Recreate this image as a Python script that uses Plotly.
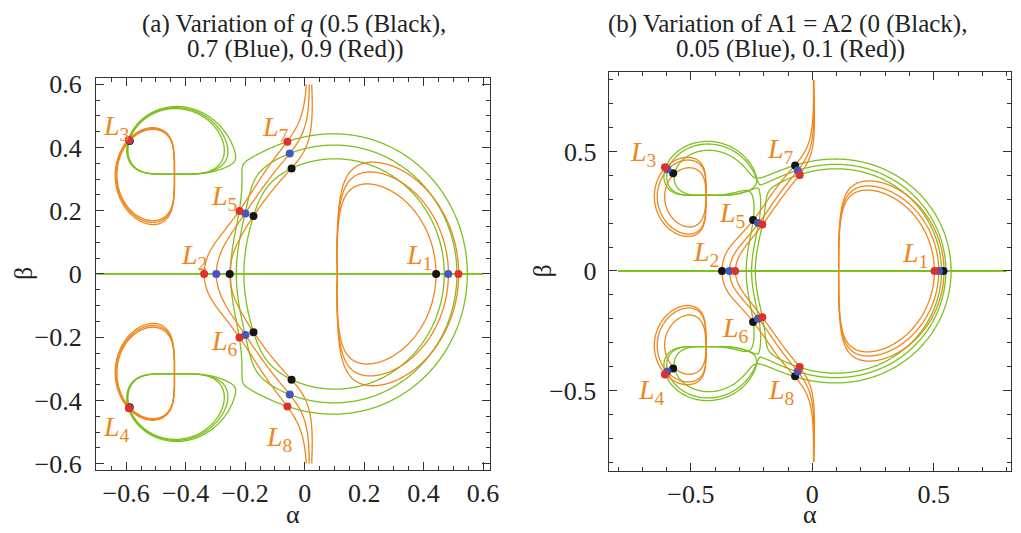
import numpy as np
import plotly.graph_objects as go

# ---------------- data ----------------
q_values = [0.5, 0.7, 0.9]        # panel (a): Black, Blue, Red
A_values = [0.0, 0.05, 0.1]       # panel (b): Black, Blue, Red
case_names = ["Black", "Blue", "Red"]
dot_colors = ["#151515", "#4656c0", "#e0302c"]
ORANGE = "#f0861a"
GREEN = "#7cc11c"

# equilibrium points L1..L8 (alpha, beta)
La_black = [(0.442, 0.0), (-0.252, 0.0), (-0.588, 0.421), (-0.588, -0.422),
            (-0.172, 0.183), (-0.172, -0.184), (-0.044, 0.334), (-0.044, -0.335)]
La_blue = [(0.483, 0.0), (-0.297, 0.0), (-0.589, 0.422), (-0.589, -0.423),
           (-0.199, 0.191), (-0.199, -0.193), (-0.050, 0.381), (-0.050, -0.381)]
La_red = [(0.517, 0.0), (-0.338, 0.0), (-0.591, 0.424), (-0.591, -0.425),
          (-0.219, 0.199), (-0.219, -0.201), (-0.058, 0.418), (-0.058, -0.419)]
Lb_black = [(0.540, 0.0), (-0.372, 0.0), (-0.573, 0.409), (-0.573, -0.408),
            (-0.244, 0.213), (-0.244, -0.213), (-0.071, 0.441), (-0.071, -0.440)]
Lb_blue = [(0.521, 0.0), (-0.341, 0.0), (-0.597, 0.426), (-0.597, -0.421),
           (-0.224, 0.201), (-0.224, -0.200), (-0.060, 0.420), (-0.060, -0.421)]
Lb_red = [(0.503, 0.0), (-0.318, 0.0), (-0.607, 0.434), (-0.607, -0.433),
          (-0.206, 0.194), (-0.206, -0.194), (-0.052, 0.402), (-0.052, -0.402)]

label_text = ["1", "2", "3", "4", "5", "6", "7", "8"]
labels_a = [(0.385, 0.055), (-0.372, 0.055), (-0.632, 0.462), (-0.632, -0.49),
            (-0.268, 0.242), (-0.268, -0.218), (-0.098, 0.46), (-0.083, -0.52)]
labels_b = [(0.424, 0.068), (-0.438, 0.075), (-0.697, 0.492), (-0.663, -0.505),
            (-0.33, 0.235), (-0.318, -0.243), (-0.132, 0.502), (-0.125, -0.505)]

title_a = ["(a) Variation of <i>q</i> (0.5 (Black),", "0.7 (Blue), 0.9 (Red))"]
title_b = ["(b) Variation of A1 = A2 (0 (Black),", "0.05 (Blue), 0.1 (Red))"]

# model constants of the four-body problem (three primaries on an equilateral triangle),
# estimated so that the curves pass through the equilibrium points above
MU = 0.099          # mass of each small primary
SIDE = 0.6315       # triangle side in plot units
N0 = 7.5956         # squared mean motion without oblateness
K_A = 3.0876        # mean-motion correction per unit oblateness
C_OBL = 0.4307      # oblateness scale factor in plot units
D_OBL = 0.0064      # oblateness share of the big primary
A_PANEL_A = 0.0465  # oblateness used in panel (a)
Q_PANEL_B = 0.9254  # radiation factor used in panel (b)

SQ3 = np.sqrt(3.0)


def force(X, Y, q, A):
    n2 = N0 * (1 + K_A * A)
    m = [1 - 2 * MU, MU, MU]
    xs = [SQ3 * MU * SIDE, -SQ3 / 2 * (1 - 2 * MU) * SIDE, -SQ3 / 2 * (1 - 2 * MU) * SIDE]
    ys = [0.0, SIDE / 2, -SIDE / 2]
    qs = [q, 1.0, 1.0]
    As = [D_OBL * C_OBL * A, C_OBL * A, C_OBL * A]
    gx = n2 * X
    gy = n2 * Y
    for mi, xi, yi, qi, Ai in zip(m, xs, ys, qs, As):
        dx = X - xi
        dy = Y - yi
        r2 = dx * dx + dy * dy
        f = qi * mi / (r2 * np.sqrt(r2)) * (1 + 1.5 * Ai / r2)
        gx = gx - f * dx
        gy = gy - f * dy
    return gx, gy


def case(panel, k):
    if panel == 0:
        return q_values[k], A_PANEL_A
    return Q_PANEL_B, A_values[k]


SERIF = "Liberation Serif"

# ---------------- figure ----------------
fig = go.Figure()
panels = [
    dict(xa="x", ya="y", xr=(-0.70, 0.60), yr=(-0.60, 0.60), pts=[La_black, La_blue, La_red], labels=labels_a),
    dict(xa="x2", ya="y2", xr=(-0.80, 0.80), yr=(-0.80, 0.80), pts=[Lb_black, Lb_blue, Lb_red], labels=labels_b),
]
N = 400
for panel, P in enumerate(panels):
    gx_ = np.linspace(P["xr"][0], P["xr"][1], N)
    gy_ = np.linspace(P["yr"][0], P["yr"][1], N)
    X, Y = np.meshgrid(gx_, gy_)
    fields = []
    for k in range(3):
        q, A = case(panel, k)
        fields.append(force(X, Y, q, A))
    for idx, color in [(1, GREEN), (0, ORANGE)]:
        for k in range(3):
            Z = fields[k][idx]
            Zi = np.clip(np.round(Z * 2000.0), -32000, 32000).astype(np.int16)
            fig.add_trace(go.Contour(
                x=gx_, y=gy_, z=Zi, xaxis=P["xa"], yaxis=P["ya"],
                contours=dict(type="constraint", operation="=", value=0),
                line=dict(color=color, width=1.3, smoothing=0.8),
                showscale=False, showlegend=False, hoverinfo="skip"))
    for k in range(3):
        pts = P["pts"][k]
        fig.add_trace(go.Scatter(
            x=[t[0] for t in pts], y=[t[1] for t in pts], mode="markers",
            xaxis=P["xa"], yaxis=P["ya"], name=case_names[k],
            marker=dict(color=dot_colors[k], size=8, line=dict(width=0)),
            showlegend=False, hoverinfo="skip"))
    for name, (lx, ly) in zip(label_text, P["labels"]):
        fig.add_annotation(x=lx, y=ly, xref=P["xa"], yref=P["ya"], showarrow=False,
                           xanchor="center", yanchor="middle",
                           text=f"<i>L</i><sub>{name}</sub>",
                           font=dict(family=SERIF, size=28, color=ORANGE))

axis_common = dict(showgrid=False, zeroline=False, showline=True, linecolor="#333333",
                   linewidth=1, mirror="allticks", ticks="inside", ticklen=8,
                   tickcolor="#333333", tickfont=dict(family=SERIF, size=26, color="#222222"))
minor_a = dict(dtick=0.05, ticks="inside", ticklen=4, tickcolor="#333333")
minor_b = dict(dtick=0.1, ticks="inside", ticklen=4, tickcolor="#333333")
fig.update_layout(
    width=1021, height=533, autosize=False,
    margin=dict(l=0, r=0, t=0, b=0),
    paper_bgcolor="white", plot_bgcolor="white",
    xaxis=dict(domain=[96.7 / 1021, 494.3 / 1021], range=[-0.702, 0.623], anchor="y",
               tick0=0, dtick=0.2, minor=minor_a, **axis_common),
    yaxis=dict(domain=[1 - 476.7 / 533, 1 - 72.7 / 533], range=[-0.621, 0.621], anchor="x",
               tick0=0, dtick=0.2, minor=minor_a, ticklabelstandoff=8, **axis_common),
    xaxis2=dict(domain=[614 / 1021, 1020 / 1021], range=[-0.839, 0.818], anchor="y2",
                tick0=0, dtick=0.5, minor=minor_b, **axis_common),
    yaxis2=dict(domain=[1 - 477 / 533, 1 - 67 / 533], range=[-0.835, 0.832], anchor="x2",
                tick0=0, dtick=0.5, minor=minor_b, ticklabelstandoff=6, **axis_common),
)

tfont = dict(family=SERIF, size=25, color="#222222")
for (cx, cy), txt in zip([(297, 17), (298, 43)], title_a):
    fig.add_annotation(x=cx / 1021, y=1 - cy / 533, xref="paper", yref="paper", showarrow=False,
                       xanchor="center", yanchor="middle", text=txt, font=tfont)
for (cx, cy), txt in zip([(794, 17), (798, 43)], title_b):
    fig.add_annotation(x=cx / 1021, y=1 - cy / 533, xref="paper", yref="paper", showarrow=False,
                       xanchor="center", yanchor="middle", text=txt, font=tfont)

afont = dict(family=SERIF, size=26, color="#222222")
fig.add_annotation(x=295.5 / 1021, y=1 - 522 / 533, xref="paper", yref="paper", showarrow=False,
                   xanchor="center", yanchor="middle", text="α", font=afont, borderpad=0)
fig.add_annotation(x=817 / 1021, y=1 - 522 / 533, xref="paper", yref="paper", showarrow=False,
                   xanchor="center", yanchor="middle", text="α", font=afont, borderpad=0)
fig.add_annotation(x=23 / 1021, y=1 - 274 / 533, xref="paper", yref="paper", showarrow=False,
                   xanchor="center", yanchor="middle", text="β", textangle=-90, font=afont)
fig.add_annotation(x=547 / 1021, y=1 - 272 / 533, xref="paper", yref="paper", showarrow=False,
                   xanchor="center", yanchor="middle", text="β", textangle=-90, font=afont)

fig.write_html("out.html")
